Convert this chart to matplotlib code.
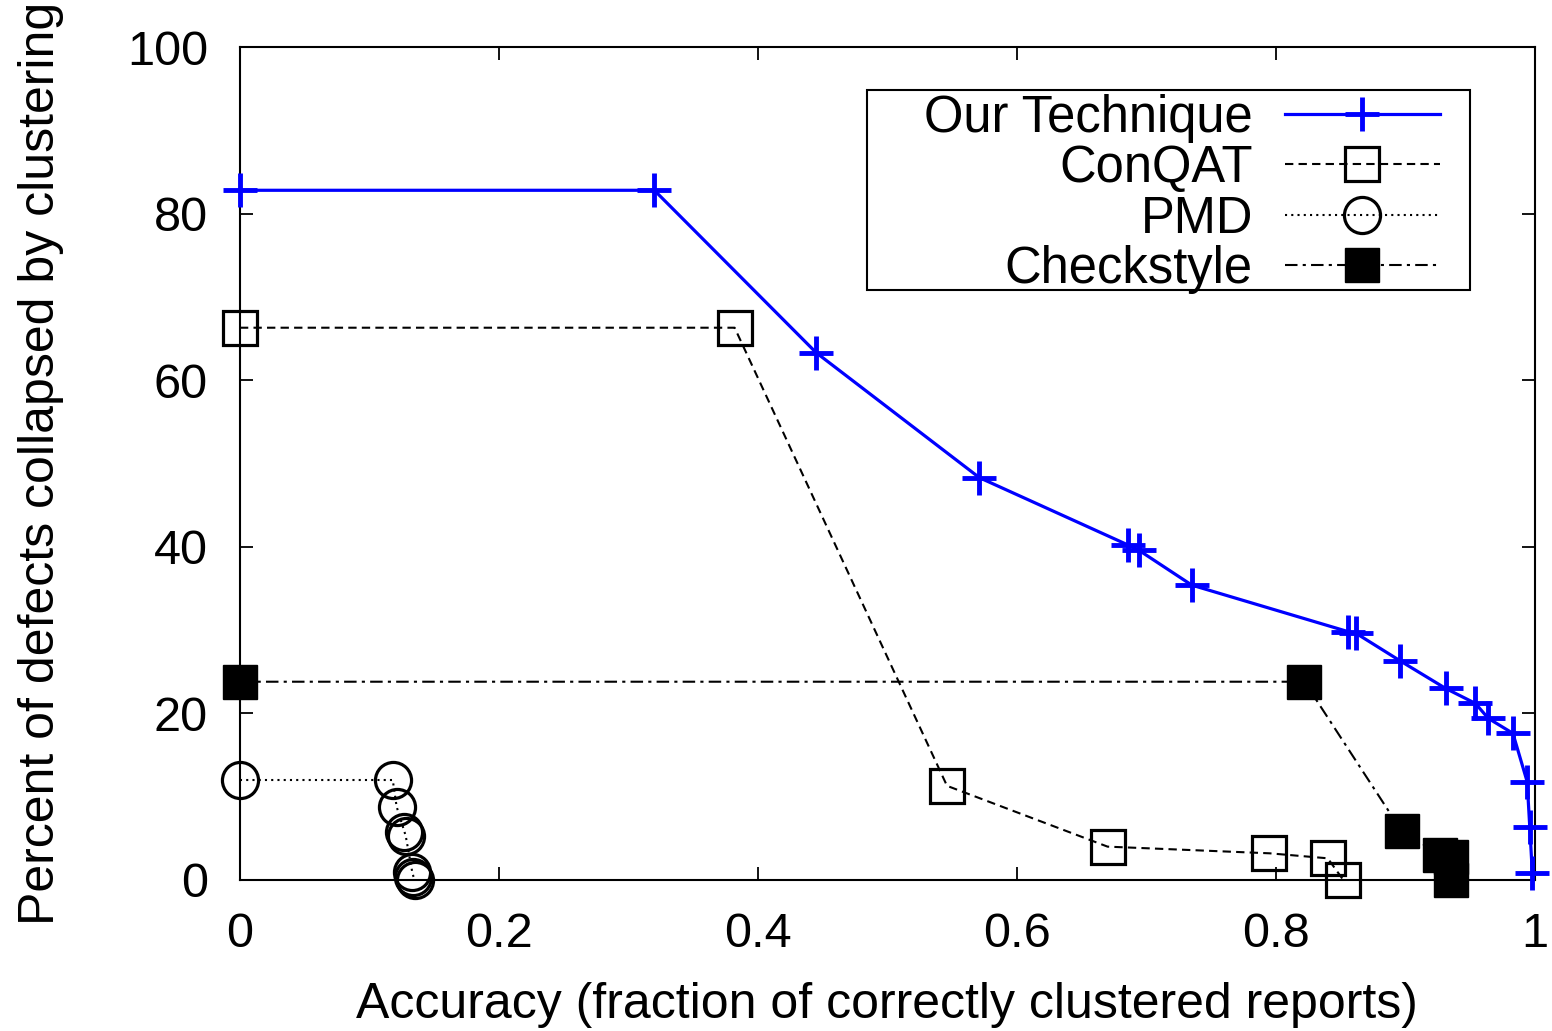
#imports
import matplotlib
matplotlib.use("Agg")
import matplotlib.pyplot as plt
from matplotlib.patches import Rectangle

plt.rcParams['font.family'] = ['Liberation Sans', 'DejaVu Sans']

#values
our_x = [0.0, 0.320, 0.445, 0.571, 0.686, 0.694, 0.735, 0.856, 0.862, 0.896,
         0.931, 0.954, 0.964, 0.983, 0.994, 0.996, 0.998]
our_y = [82.8, 82.8, 63.3, 48.3, 40.2, 39.6, 35.4, 29.8, 29.6, 26.3,
         23.0, 21.2, 19.4, 17.6, 11.8, 6.4, 0.8]

conqat_x = [0.0, 0.382, 0.546, 0.670, 0.795, 0.840, 0.852]
conqat_y = [66.3, 66.3, 11.3, 4.0, 3.2, 2.6, 0.0]

pmd_x = [0.0, 0.118, 0.121, 0.127, 0.128, 0.133, 0.134, 0.135]
pmd_y = [12.0, 12.0, 8.8, 5.8, 5.3, 1.0, 0.4, 0.0]

check_x = [0.0, 0.822, 0.897, 0.927, 0.935, 0.935]
check_y = [23.8, 23.8, 5.9, 3.0, 2.8, 0.0]

x_ticks = [0, 0.2, 0.4, 0.6, 0.8, 1]
x_labels = ["0", "0.2", "0.4", "0.6", "0.8", "1"]
y_ticks = [0, 20, 40, 60, 80, 100]

fs = 35

fig = plt.figure(figsize=(15.52, 10.31), dpi=100)
ax = fig.add_axes([0.1546, 0.1465, 0.8344, 0.8079])

ax.plot(our_x, our_y, color="#0000ff", lw=2.3, marker="+", ms=25, mew=3.5,
        label="Our Technique", clip_on=False, zorder=5)
ax.plot(conqat_x, conqat_y, color="black", lw=1.5, ls=(0, (4, 2.5)), marker="s",
        ms=25, mew=2.3, mfc="none", label="ConQAT", clip_on=False, zorder=4)
ax.plot(pmd_x, pmd_y, color="black", lw=1.5, ls=(0, (1, 2)), marker="o",
        ms=26, mew=2.3, mfc="none", label="PMD", clip_on=False, zorder=4)
ax.plot(check_x, check_y, color="black", lw=1.5, ls=(0, (6, 2.5, 1.5, 2.5)), marker="s",
        ms=25, mew=1, mfc="black", label="Checkstyle", clip_on=False, zorder=4)

ax.set_xlim(0, 1)
ax.set_ylim(0, 100)
ax.set_xticks(x_ticks)
ax.set_xticklabels(x_labels)
ax.set_yticks(y_ticks)
ax.tick_params(direction="in", length=9.5, width=1.3, labelsize=fs,
               top=True, right=True, pad=23)
for sp in ax.spines.values():
    sp.set_linewidth(1.5)

ax.set_xlabel("Accuracy (fraction of correctly clustered reports)", fontsize=36, labelpad=18)
ax.set_ylabel("Percent of defects collapsed by clustering", fontsize=36, labelpad=45)

#legend box drawn separately (gnuplot style, wider on the left)
box = Rectangle((0.4842, 0.7083), 0.4656, 0.2401, transform=ax.transAxes,
                facecolor="white", edgecolor="black", lw=1.5, zorder=9)
ax.add_patch(box)
leg = ax.legend(loc="upper right", bbox_to_anchor=(0.9266, 0.944), fontsize=36.5,
                markerfirst=False, handlelength=3.06, handletextpad=0.63,
                labelspacing=0.03, borderpad=0, frameon=False, borderaxespad=0)
leg.set_zorder(10)

fig.savefig("out.png", dpi=100)
